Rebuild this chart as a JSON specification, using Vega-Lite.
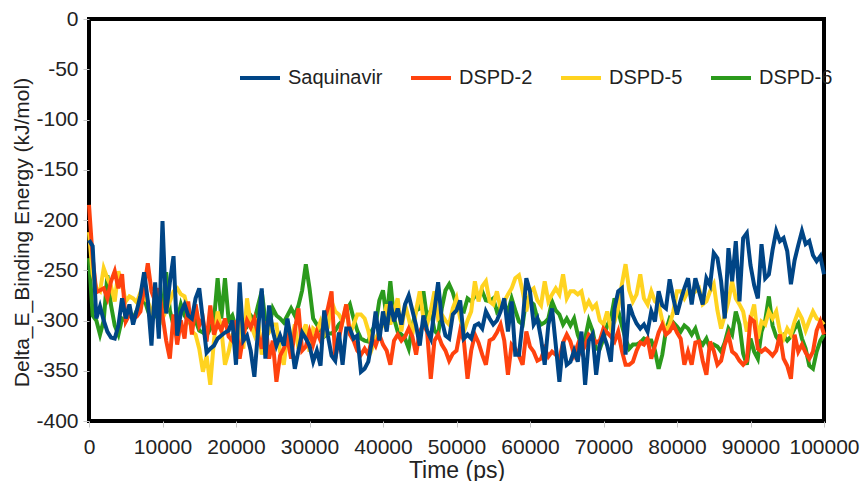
{
"$schema": "https://vega.github.io/schema/vega-lite/v6.json",
"width": 735, "height": 402,
"autosize": {"type": "none"},
"padding": {"left": 89, "top": 19, "right": 36, "bottom": 60},
"background": "white",
"config": {"view": {"stroke": "#000", "strokeWidth": 4}, "font": "Liberation Sans"},
"data": {"values": [
{"t":0,"Saquinavir":-220,"DSPD-2":-185,"DSPD-5":-212,"DSPD-6":-238},
{"t":500,"Saquinavir":-226,"DSPD-2":-238,"DSPD-5":-254,"DSPD-6":-295},
{"t":1000,"Saquinavir":-298,"DSPD-2":-272,"DSPD-5":-268,"DSPD-6":-300},
{"t":1500,"Saquinavir":-286,"DSPD-2":-270,"DSPD-5":-271,"DSPD-6":-314},
{"t":2000,"Saquinavir":-300,"DSPD-2":-268,"DSPD-5":-248,"DSPD-6":-300},
{"t":2500,"Saquinavir":-311,"DSPD-2":-278,"DSPD-5":-258,"DSPD-6":-255},
{"t":3000,"Saquinavir":-317,"DSPD-2":-261,"DSPD-5":-266,"DSPD-6":-285},
{"t":3500,"Saquinavir":-318,"DSPD-2":-251,"DSPD-5":-281,"DSPD-6":-305},
{"t":4000,"Saquinavir":-305,"DSPD-2":-268,"DSPD-5":-251,"DSPD-6":-314},
{"t":4500,"Saquinavir":-278,"DSPD-2":-254,"DSPD-5":-264,"DSPD-6":-298},
{"t":5000,"Saquinavir":-298,"DSPD-2":-301,"DSPD-5":-281,"DSPD-6":-300},
{"t":5500,"Saquinavir":-284,"DSPD-2":-294,"DSPD-5":-276,"DSPD-6":-292},
{"t":6000,"Saquinavir":-304,"DSPD-2":-298,"DSPD-5":-278,"DSPD-6":-298},
{"t":6500,"Saquinavir":-290,"DSPD-2":-296,"DSPD-5":-282,"DSPD-6":-290},
{"t":7000,"Saquinavir":-275,"DSPD-2":-291,"DSPD-5":-272,"DSPD-6":-285},
{"t":7500,"Saquinavir":-252,"DSPD-2":-268,"DSPD-5":-278,"DSPD-6":-278},
{"t":8000,"Saquinavir":-280,"DSPD-2":-243,"DSPD-5":-281,"DSPD-6":-290},
{"t":8500,"Saquinavir":-325,"DSPD-2":-271,"DSPD-5":-291,"DSPD-6":-300},
{"t":9000,"Saquinavir":-262,"DSPD-2":-281,"DSPD-5":-285,"DSPD-6":-295},
{"t":9500,"Saquinavir":-318,"DSPD-2":-268,"DSPD-5":-272,"DSPD-6":-285},
{"t":10000,"Saquinavir":-201,"DSPD-2":-295,"DSPD-5":-298,"DSPD-6":-290},
{"t":10500,"Saquinavir":-293,"DSPD-2":-320,"DSPD-5":-290,"DSPD-6":-252},
{"t":11000,"Saquinavir":-262,"DSPD-2":-338,"DSPD-5":-281,"DSPD-6":-290},
{"t":11500,"Saquinavir":-236,"DSPD-2":-294,"DSPD-5":-271,"DSPD-6":-305},
{"t":12000,"Saquinavir":-315,"DSPD-2":-324,"DSPD-5":-268,"DSPD-6":-300},
{"t":12500,"Saquinavir":-292,"DSPD-2":-300,"DSPD-5":-274,"DSPD-6":-284},
{"t":13000,"Saquinavir":-284,"DSPD-2":-318,"DSPD-5":-276,"DSPD-6":-295},
{"t":13500,"Saquinavir":-295,"DSPD-2":-281,"DSPD-5":-291,"DSPD-6":-300},
{"t":14000,"Saquinavir":-298,"DSPD-2":-314,"DSPD-5":-311,"DSPD-6":-305},
{"t":14500,"Saquinavir":-278,"DSPD-2":-284,"DSPD-5":-314,"DSPD-6":-300},
{"t":15000,"Saquinavir":-268,"DSPD-2":-305,"DSPD-5":-328,"DSPD-6":-310},
{"t":15500,"Saquinavir":-300,"DSPD-2":-298,"DSPD-5":-351,"DSPD-6":-312},
{"t":16000,"Saquinavir":-332,"DSPD-2":-321,"DSPD-5":-335,"DSPD-6":-315},
{"t":16500,"Saquinavir":-328,"DSPD-2":-285,"DSPD-5":-364,"DSPD-6":-308},
{"t":17000,"Saquinavir":-325,"DSPD-2":-314,"DSPD-5":-320,"DSPD-6":-300},
{"t":17500,"Saquinavir":-318,"DSPD-2":-303,"DSPD-5":-291,"DSPD-6":-258},
{"t":18000,"Saquinavir":-315,"DSPD-2":-310,"DSPD-5":-308,"DSPD-6":-298},
{"t":18500,"Saquinavir":-312,"DSPD-2":-298,"DSPD-5":-344,"DSPD-6":-258},
{"t":19000,"Saquinavir":-310,"DSPD-2":-316,"DSPD-5":-331,"DSPD-6":-300},
{"t":19500,"Saquinavir":-300,"DSPD-2":-320,"DSPD-5":-314,"DSPD-6":-295},
{"t":20000,"Saquinavir":-344,"DSPD-2":-300,"DSPD-5":-311,"DSPD-6":-308},
{"t":20500,"Saquinavir":-262,"DSPD-2":-338,"DSPD-5":-304,"DSPD-6":-302},
{"t":21000,"Saquinavir":-320,"DSPD-2":-315,"DSPD-5":-328,"DSPD-6":-300},
{"t":21500,"Saquinavir":-315,"DSPD-2":-300,"DSPD-5":-278,"DSPD-6":-305},
{"t":22000,"Saquinavir":-330,"DSPD-2":-307,"DSPD-5":-304,"DSPD-6":-295},
{"t":22500,"Saquinavir":-356,"DSPD-2":-298,"DSPD-5":-314,"DSPD-6":-300},
{"t":23000,"Saquinavir":-310,"DSPD-2":-314,"DSPD-5":-298,"DSPD-6":-285},
{"t":23500,"Saquinavir":-268,"DSPD-2":-328,"DSPD-5":-334,"DSPD-6":-271},
{"t":24000,"Saquinavir":-338,"DSPD-2":-301,"DSPD-5":-318,"DSPD-6":-300},
{"t":24500,"Saquinavir":-285,"DSPD-2":-338,"DSPD-5":-311,"DSPD-6":-308},
{"t":25000,"Saquinavir":-310,"DSPD-2":-320,"DSPD-5":-304,"DSPD-6":-288},
{"t":25500,"Saquinavir":-325,"DSPD-2":-361,"DSPD-5":-304,"DSPD-6":-295},
{"t":26000,"Saquinavir":-315,"DSPD-2":-335,"DSPD-5":-331,"DSPD-6":-298},
{"t":26500,"Saquinavir":-325,"DSPD-2":-328,"DSPD-5":-344,"DSPD-6":-302},
{"t":27000,"Saquinavir":-298,"DSPD-2":-318,"DSPD-5":-314,"DSPD-6":-295},
{"t":27500,"Saquinavir":-320,"DSPD-2":-338,"DSPD-5":-321,"DSPD-6":-288},
{"t":28000,"Saquinavir":-348,"DSPD-2":-310,"DSPD-5":-304,"DSPD-6":-295},
{"t":28500,"Saquinavir":-330,"DSPD-2":-288,"DSPD-5":-328,"DSPD-6":-285},
{"t":29000,"Saquinavir":-312,"DSPD-2":-330,"DSPD-5":-314,"DSPD-6":-270},
{"t":29500,"Saquinavir":-318,"DSPD-2":-326,"DSPD-5":-304,"DSPD-6":-244},
{"t":30000,"Saquinavir":-325,"DSPD-2":-311,"DSPD-5":-331,"DSPD-6":-268},
{"t":30500,"Saquinavir":-341,"DSPD-2":-324,"DSPD-5":-308,"DSPD-6":-298},
{"t":31000,"Saquinavir":-330,"DSPD-2":-311,"DSPD-5":-311,"DSPD-6":-304},
{"t":31500,"Saquinavir":-345,"DSPD-2":-320,"DSPD-5":-301,"DSPD-6":-310},
{"t":32000,"Saquinavir":-290,"DSPD-2":-300,"DSPD-5":-314,"DSPD-6":-316},
{"t":32500,"Saquinavir":-315,"DSPD-2":-288,"DSPD-5":-307,"DSPD-6":-313},
{"t":33000,"Saquinavir":-335,"DSPD-2":-271,"DSPD-5":-281,"DSPD-6":-313},
{"t":33500,"Saquinavir":-340,"DSPD-2":-338,"DSPD-5":-291,"DSPD-6":-310},
{"t":34000,"Saquinavir":-312,"DSPD-2":-318,"DSPD-5":-294,"DSPD-6":-304},
{"t":34500,"Saquinavir":-344,"DSPD-2":-300,"DSPD-5":-301,"DSPD-6":-300},
{"t":35000,"Saquinavir":-308,"DSPD-2":-284,"DSPD-5":-284,"DSPD-6":-290},
{"t":35500,"Saquinavir":-308,"DSPD-2":-314,"DSPD-5":-314,"DSPD-6":-284},
{"t":36000,"Saquinavir":-318,"DSPD-2":-320,"DSPD-5":-304,"DSPD-6":-298},
{"t":36500,"Saquinavir":-315,"DSPD-2":-330,"DSPD-5":-294,"DSPD-6":-310},
{"t":37000,"Saquinavir":-351,"DSPD-2":-334,"DSPD-5":-294,"DSPD-6":-318},
{"t":37500,"Saquinavir":-348,"DSPD-2":-328,"DSPD-5":-298,"DSPD-6":-320},
{"t":38000,"Saquinavir":-341,"DSPD-2":-334,"DSPD-5":-310,"DSPD-6":-321},
{"t":38500,"Saquinavir":-320,"DSPD-2":-318,"DSPD-5":-328,"DSPD-6":-310},
{"t":39000,"Saquinavir":-291,"DSPD-2":-325,"DSPD-5":-318,"DSPD-6":-304},
{"t":39500,"Saquinavir":-320,"DSPD-2":-314,"DSPD-5":-311,"DSPD-6":-280},
{"t":40000,"Saquinavir":-291,"DSPD-2":-324,"DSPD-5":-304,"DSPD-6":-270},
{"t":40500,"Saquinavir":-311,"DSPD-2":-330,"DSPD-5":-284,"DSPD-6":-298},
{"t":41000,"Saquinavir":-281,"DSPD-2":-344,"DSPD-5":-304,"DSPD-6":-261},
{"t":41500,"Saquinavir":-301,"DSPD-2":-320,"DSPD-5":-290,"DSPD-6":-298},
{"t":42000,"Saquinavir":-288,"DSPD-2":-314,"DSPD-5":-278,"DSPD-6":-311},
{"t":42500,"Saquinavir":-304,"DSPD-2":-320,"DSPD-5":-311,"DSPD-6":-314},
{"t":43000,"Saquinavir":-284,"DSPD-2":-316,"DSPD-5":-284,"DSPD-6":-318},
{"t":43500,"Saquinavir":-275,"DSPD-2":-308,"DSPD-5":-298,"DSPD-6":-328},
{"t":44000,"Saquinavir":-290,"DSPD-2":-316,"DSPD-5":-314,"DSPD-6":-305},
{"t":44500,"Saquinavir":-305,"DSPD-2":-334,"DSPD-5":-290,"DSPD-6":-290},
{"t":45000,"Saquinavir":-325,"DSPD-2":-311,"DSPD-5":-271,"DSPD-6":-288},
{"t":45500,"Saquinavir":-295,"DSPD-2":-304,"DSPD-5":-298,"DSPD-6":-271},
{"t":46000,"Saquinavir":-310,"DSPD-2":-311,"DSPD-5":-304,"DSPD-6":-298},
{"t":46500,"Saquinavir":-318,"DSPD-2":-358,"DSPD-5":-290,"DSPD-6":-290},
{"t":47000,"Saquinavir":-290,"DSPD-2":-320,"DSPD-5":-271,"DSPD-6":-310},
{"t":47500,"Saquinavir":-262,"DSPD-2":-314,"DSPD-5":-298,"DSPD-6":-314},
{"t":48000,"Saquinavir":-300,"DSPD-2":-324,"DSPD-5":-294,"DSPD-6":-288},
{"t":48500,"Saquinavir":-315,"DSPD-2":-330,"DSPD-5":-300,"DSPD-6":-270},
{"t":49000,"Saquinavir":-318,"DSPD-2":-340,"DSPD-5":-304,"DSPD-6":-264},
{"t":49500,"Saquinavir":-294,"DSPD-2":-333,"DSPD-5":-288,"DSPD-6":-272},
{"t":50000,"Saquinavir":-290,"DSPD-2":-330,"DSPD-5":-278,"DSPD-6":-285},
{"t":50500,"Saquinavir":-280,"DSPD-2":-310,"DSPD-5":-298,"DSPD-6":-290},
{"t":51000,"Saquinavir":-318,"DSPD-2":-320,"DSPD-5":-311,"DSPD-6":-291},
{"t":51500,"Saquinavir":-314,"DSPD-2":-358,"DSPD-5":-300,"DSPD-6":-278},
{"t":52000,"Saquinavir":-318,"DSPD-2":-330,"DSPD-5":-291,"DSPD-6":-281},
{"t":52500,"Saquinavir":-305,"DSPD-2":-314,"DSPD-5":-261,"DSPD-6":-276},
{"t":53000,"Saquinavir":-303,"DSPD-2":-322,"DSPD-5":-281,"DSPD-6":-274},
{"t":53500,"Saquinavir":-308,"DSPD-2":-334,"DSPD-5":-266,"DSPD-6":-271},
{"t":54000,"Saquinavir":-291,"DSPD-2":-344,"DSPD-5":-261,"DSPD-6":-280},
{"t":54500,"Saquinavir":-298,"DSPD-2":-320,"DSPD-5":-281,"DSPD-6":-281},
{"t":55000,"Saquinavir":-304,"DSPD-2":-318,"DSPD-5":-284,"DSPD-6":-278},
{"t":55500,"Saquinavir":-300,"DSPD-2":-312,"DSPD-5":-271,"DSPD-6":-291},
{"t":56000,"Saquinavir":-291,"DSPD-2":-304,"DSPD-5":-288,"DSPD-6":-286},
{"t":56500,"Saquinavir":-278,"DSPD-2":-320,"DSPD-5":-281,"DSPD-6":-284},
{"t":57000,"Saquinavir":-311,"DSPD-2":-354,"DSPD-5":-274,"DSPD-6":-291},
{"t":57500,"Saquinavir":-281,"DSPD-2":-324,"DSPD-5":-268,"DSPD-6":-278},
{"t":58000,"Saquinavir":-334,"DSPD-2":-328,"DSPD-5":-258,"DSPD-6":-290},
{"t":58500,"Saquinavir":-334,"DSPD-2":-335,"DSPD-5":-255,"DSPD-6":-301},
{"t":59000,"Saquinavir":-301,"DSPD-2":-344,"DSPD-5":-271,"DSPD-6":-304},
{"t":59500,"Saquinavir":-258,"DSPD-2":-311,"DSPD-5":-291,"DSPD-6":-278},
{"t":60000,"Saquinavir":-271,"DSPD-2":-326,"DSPD-5":-271,"DSPD-6":-281},
{"t":60500,"Saquinavir":-304,"DSPD-2":-331,"DSPD-5":-268,"DSPD-6":-284},
{"t":61000,"Saquinavir":-298,"DSPD-2":-340,"DSPD-5":-280,"DSPD-6":-298},
{"t":61500,"Saquinavir":-318,"DSPD-2":-338,"DSPD-5":-285,"DSPD-6":-304},
{"t":62000,"Saquinavir":-344,"DSPD-2":-328,"DSPD-5":-261,"DSPD-6":-302},
{"t":62500,"Saquinavir":-304,"DSPD-2":-336,"DSPD-5":-281,"DSPD-6":-298},
{"t":63000,"Saquinavir":-288,"DSPD-2":-331,"DSPD-5":-274,"DSPD-6":-281},
{"t":63500,"Saquinavir":-324,"DSPD-2":-334,"DSPD-5":-268,"DSPD-6":-290},
{"t":64000,"Saquinavir":-361,"DSPD-2":-338,"DSPD-5":-274,"DSPD-6":-294},
{"t":64500,"Saquinavir":-321,"DSPD-2":-322,"DSPD-5":-254,"DSPD-6":-304},
{"t":65000,"Saquinavir":-344,"DSPD-2":-314,"DSPD-5":-278,"DSPD-6":-298},
{"t":65500,"Saquinavir":-341,"DSPD-2":-321,"DSPD-5":-271,"DSPD-6":-305},
{"t":66000,"Saquinavir":-330,"DSPD-2":-334,"DSPD-5":-271,"DSPD-6":-298},
{"t":66500,"Saquinavir":-341,"DSPD-2":-324,"DSPD-5":-274,"DSPD-6":-314},
{"t":67000,"Saquinavir":-311,"DSPD-2":-332,"DSPD-5":-271,"DSPD-6":-324},
{"t":67500,"Saquinavir":-364,"DSPD-2":-325,"DSPD-5":-288,"DSPD-6":-318},
{"t":68000,"Saquinavir":-320,"DSPD-2":-314,"DSPD-5":-281,"DSPD-6":-300},
{"t":68500,"Saquinavir":-314,"DSPD-2":-317,"DSPD-5":-288,"DSPD-6":-310},
{"t":69000,"Saquinavir":-354,"DSPD-2":-322,"DSPD-5":-284,"DSPD-6":-328},
{"t":69500,"Saquinavir":-324,"DSPD-2":-320,"DSPD-5":-300,"DSPD-6":-328},
{"t":70000,"Saquinavir":-314,"DSPD-2":-308,"DSPD-5":-304,"DSPD-6":-318},
{"t":70500,"Saquinavir":-325,"DSPD-2":-312,"DSPD-5":-291,"DSPD-6":-305},
{"t":71000,"Saquinavir":-341,"DSPD-2":-316,"DSPD-5":-308,"DSPD-6":-298},
{"t":71500,"Saquinavir":-288,"DSPD-2":-321,"DSPD-5":-301,"DSPD-6":-278},
{"t":72000,"Saquinavir":-271,"DSPD-2":-311,"DSPD-5":-288,"DSPD-6":-290},
{"t":72500,"Saquinavir":-268,"DSPD-2":-330,"DSPD-5":-264,"DSPD-6":-305},
{"t":73000,"Saquinavir":-334,"DSPD-2":-344,"DSPD-5":-244,"DSPD-6":-318},
{"t":73500,"Saquinavir":-284,"DSPD-2":-344,"DSPD-5":-270,"DSPD-6":-328},
{"t":74000,"Saquinavir":-295,"DSPD-2":-341,"DSPD-5":-281,"DSPD-6":-324},
{"t":74500,"Saquinavir":-303,"DSPD-2":-330,"DSPD-5":-274,"DSPD-6":-324},
{"t":75000,"Saquinavir":-308,"DSPD-2":-322,"DSPD-5":-254,"DSPD-6":-322},
{"t":75500,"Saquinavir":-304,"DSPD-2":-324,"DSPD-5":-278,"DSPD-6":-318},
{"t":76000,"Saquinavir":-311,"DSPD-2":-318,"DSPD-5":-284,"DSPD-6":-320},
{"t":76500,"Saquinavir":-291,"DSPD-2":-338,"DSPD-5":-271,"DSPD-6":-320},
{"t":77000,"Saquinavir":-301,"DSPD-2":-325,"DSPD-5":-281,"DSPD-6":-330},
{"t":77500,"Saquinavir":-271,"DSPD-2":-312,"DSPD-5":-284,"DSPD-6":-348},
{"t":78000,"Saquinavir":-285,"DSPD-2":-304,"DSPD-5":-300,"DSPD-6":-334},
{"t":78500,"Saquinavir":-288,"DSPD-2":-314,"DSPD-5":-311,"DSPD-6":-310},
{"t":79000,"Saquinavir":-259,"DSPD-2":-311,"DSPD-5":-304,"DSPD-6":-298},
{"t":79500,"Saquinavir":-278,"DSPD-2":-304,"DSPD-5":-291,"DSPD-6":-302},
{"t":80000,"Saquinavir":-294,"DSPD-2":-312,"DSPD-5":-271,"DSPD-6":-306},
{"t":80500,"Saquinavir":-280,"DSPD-2":-318,"DSPD-5":-271,"DSPD-6":-311},
{"t":81000,"Saquinavir":-268,"DSPD-2":-344,"DSPD-5":-278,"DSPD-6":-305},
{"t":81500,"Saquinavir":-258,"DSPD-2":-331,"DSPD-5":-271,"DSPD-6":-308},
{"t":82000,"Saquinavir":-284,"DSPD-2":-344,"DSPD-5":-274,"DSPD-6":-314},
{"t":82500,"Saquinavir":-258,"DSPD-2":-322,"DSPD-5":-271,"DSPD-6":-308},
{"t":83000,"Saquinavir":-271,"DSPD-2":-321,"DSPD-5":-268,"DSPD-6":-320},
{"t":83500,"Saquinavir":-284,"DSPD-2":-340,"DSPD-5":-284,"DSPD-6":-324},
{"t":84000,"Saquinavir":-258,"DSPD-2":-354,"DSPD-5":-281,"DSPD-6":-318},
{"t":84500,"Saquinavir":-265,"DSPD-2":-321,"DSPD-5":-271,"DSPD-6":-328},
{"t":85000,"Saquinavir":-233,"DSPD-2":-330,"DSPD-5":-264,"DSPD-6":-324},
{"t":85500,"Saquinavir":-238,"DSPD-2":-344,"DSPD-5":-290,"DSPD-6":-326},
{"t":86000,"Saquinavir":-261,"DSPD-2":-340,"DSPD-5":-308,"DSPD-6":-331},
{"t":86500,"Saquinavir":-298,"DSPD-2":-324,"DSPD-5":-295,"DSPD-6":-322},
{"t":87000,"Saquinavir":-228,"DSPD-2":-314,"DSPD-5":-281,"DSPD-6":-308},
{"t":87500,"Saquinavir":-261,"DSPD-2":-331,"DSPD-5":-261,"DSPD-6":-314},
{"t":88000,"Saquinavir":-221,"DSPD-2":-334,"DSPD-5":-278,"DSPD-6":-291},
{"t":88500,"Saquinavir":-281,"DSPD-2":-340,"DSPD-5":-284,"DSPD-6":-304},
{"t":89000,"Saquinavir":-218,"DSPD-2":-344,"DSPD-5":-291,"DSPD-6":-333},
{"t":89500,"Saquinavir":-213,"DSPD-2":-340,"DSPD-5":-311,"DSPD-6":-344},
{"t":90000,"Saquinavir":-245,"DSPD-2":-298,"DSPD-5":-298,"DSPD-6":-318},
{"t":90500,"Saquinavir":-265,"DSPD-2":-301,"DSPD-5":-284,"DSPD-6":-331},
{"t":91000,"Saquinavir":-278,"DSPD-2":-328,"DSPD-5":-318,"DSPD-6":-338},
{"t":91500,"Saquinavir":-224,"DSPD-2":-331,"DSPD-5":-301,"DSPD-6":-311},
{"t":92000,"Saquinavir":-258,"DSPD-2":-328,"DSPD-5":-304,"DSPD-6":-300},
{"t":92500,"Saquinavir":-254,"DSPD-2":-331,"DSPD-5":-291,"DSPD-6":-276},
{"t":93000,"Saquinavir":-230,"DSPD-2":-335,"DSPD-5":-298,"DSPD-6":-305},
{"t":93500,"Saquinavir":-211,"DSPD-2":-330,"DSPD-5":-291,"DSPD-6":-316},
{"t":94000,"Saquinavir":-221,"DSPD-2":-314,"DSPD-5":-311,"DSPD-6":-321},
{"t":94500,"Saquinavir":-218,"DSPD-2":-338,"DSPD-5":-318,"DSPD-6":-315},
{"t":95000,"Saquinavir":-231,"DSPD-2":-345,"DSPD-5":-308,"DSPD-6":-320},
{"t":95500,"Saquinavir":-264,"DSPD-2":-358,"DSPD-5":-314,"DSPD-6":-316},
{"t":96000,"Saquinavir":-240,"DSPD-2":-314,"DSPD-5":-301,"DSPD-6":-308},
{"t":96500,"Saquinavir":-225,"DSPD-2":-331,"DSPD-5":-291,"DSPD-6":-303},
{"t":97000,"Saquinavir":-211,"DSPD-2":-324,"DSPD-5":-298,"DSPD-6":-318},
{"t":97500,"Saquinavir":-224,"DSPD-2":-332,"DSPD-5":-310,"DSPD-6":-328},
{"t":98000,"Saquinavir":-221,"DSPD-2":-338,"DSPD-5":-300,"DSPD-6":-345},
{"t":98500,"Saquinavir":-235,"DSPD-2":-331,"DSPD-5":-291,"DSPD-6":-348},
{"t":99000,"Saquinavir":-241,"DSPD-2":-310,"DSPD-5":-298,"DSPD-6":-331},
{"t":99500,"Saquinavir":-236,"DSPD-2":-301,"DSPD-5":-300,"DSPD-6":-320},
{"t":100000,"Saquinavir":-254,"DSPD-2":-314,"DSPD-5":-304,"DSPD-6":-314}
]},
"transform": [{"fold": ["Saquinavir", "DSPD-2", "DSPD-5", "DSPD-6"], "as": ["series", "value"]}],
"encoding": {
  "x": {"field": "t", "type": "quantitative",
    "scale": {"domain": [0, 100000], "nice": false},
    "axis": {"title": "Time (ps)", "values": [0,10000,20000,30000,40000,50000,60000,70000,80000,90000,100000],
      "format": "d", "grid": false, "domain": false, "tickColor": "#c8c8c8", "tickSize": 6,
      "labelFontSize": 21, "labelColor": "#222", "labelPadding": 9, "labelFlush": false,
      "titleFontSize": 23, "titleFontWeight": "normal", "titleColor": "#222", "titlePadding": 2}},
  "y": {"field": "value", "type": "quantitative",
    "scale": {"domain": [-400, 0], "nice": false},
    "axis": {"title": "Delta_E_Binding Energy (kJ/mol)", "values": [-400,-350,-300,-250,-200,-150,-100,-50,0],
      "labelExpr": "'' + datum.value", "grid": false, "domain": false, "tickColor": "#c8c8c8", "tickSize": 6,
      "labelFontSize": 21, "labelColor": "#222", "labelPadding": 5,
      "titleFontSize": 21, "titleFontWeight": "normal", "titleColor": "#222", "titlePadding": 3, "titleY": 213}},
  "color": {"field": "series", "type": "nominal",
    "scale": {"domain": ["Saquinavir", "DSPD-2", "DSPD-5", "DSPD-6"], "range": ["#004586", "#ff420e", "#ffd320", "#2b9a1c"]},
    "legend": {"orient": "none", "legendX": 149, "legendY": 37, "direction": "horizontal", "title": null,
      "symbolType": "stroke", "symbolSize": 1600, "symbolStrokeWidth": 4,
      "labelFontSize": 20, "labelColor": "#222", "labelOffset": 6, "columnPadding": 20, "padding": 0}}
},
"layer": [
  {"transform": [{"filter": {"field": "series", "equal": "DSPD-6"}}], "mark": {"type": "line", "strokeWidth": 4}},
  {"transform": [{"filter": {"field": "series", "equal": "DSPD-5"}}], "mark": {"type": "line", "strokeWidth": 4}},
  {"transform": [{"filter": {"field": "series", "equal": "DSPD-2"}}], "mark": {"type": "line", "strokeWidth": 4}},
  {"transform": [{"filter": {"field": "series", "equal": "Saquinavir"}}], "mark": {"type": "line", "strokeWidth": 4}}
]
}
